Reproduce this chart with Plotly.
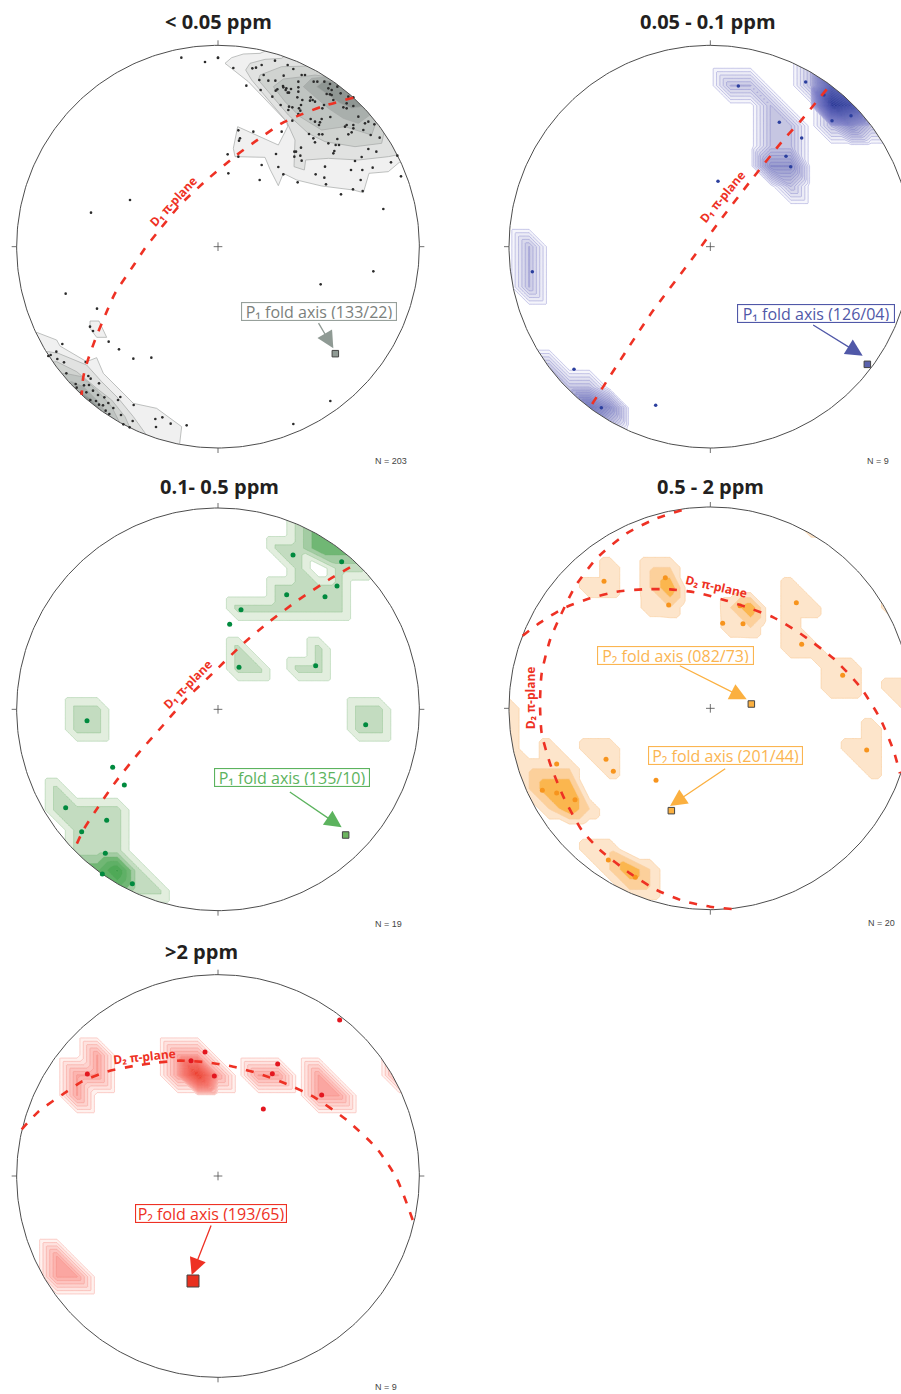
import numpy as np
import plotly.graph_objects as go

# ---------- readings: every coordinate is in "net units" (1/3 px) of that panel ----------
TITLES = ["&lt; 0.05 ppm", "0.05 - 0.1 ppm", "0.1- 0.5 ppm", "0.5 - 2 ppm", "&gt;2 ppm"]
COUNTS = ["N = 203", "N = 9", "N = 19", "N = 20", "N = 9"]

# panel 1: poles (read in two sub-windows of the net)
P1_DOTS_A = [(9,39),(55,69),(123,68),(112,70),(140,60),(180,47),(218,60),(235,72),(146,90),(133,105),(160,107),(181,107),(206,92),(260,90),(270,90),(250,110),(94,122),(137,135),(172,155),(204,123),(214,130),(205,127),(228,132),(212,135),(187,133),(182,137),(222,143),(218,143),(250,127),(250,140),(296,110),(307,110),(328,110),(345,117),(367,125),(340,130),(350,135),(335,147),(345,148),(350,150),(287,157),(293,165),(300,170),(247,157),(258,180),(252,190),(262,165),(197,180),(222,185),(232,187),(220,195),(285,167),(377,145),(400,155),(415,157),(355,165),(395,175),(385,187),(395,190),(415,183),(327,180),(322,190),(346,216),(300,230),(287,222),(256,197),(250,207),(232,227),(320,222),(315,232),(312,240),(390,245),(395,240),(415,240),(415,250),(445,255),(450,235),(460,230),(430,215),(478,238),(467,270),(410,262),(400,268),(367,282),(362,300),(355,325),(358,318),(312,268),(322,268),(282,267),(295,280),(300,292),(340,295),(372,300),(200,260),(115,260),(70,256),(75,280),(72,287),(70,335),(38,328),(183,327),(258,308),(243,320),(238,320),(256,332),(238,335),(260,347),(140,360),(190,366),(40,385),(205,388),(134,405),(302,388),(330,365),(328,398),(333,418),(248,412),(378,448),(414,433),(443,438),(437,405),(408,375),(442,375),(473,368),(420,348),(440,336),(460,312),(484,320),(494,278),(528,352),(558,394),(547,332)]
P1_DOTS_B = [(225,20),(234,33),(281,65),(312,88),(355,116),(409,113),(142,72),(124,95),(107,105),(100,108),(127,117),(147,127),(212,126),(154,160),(220,168),(227,176),(252,190),(182,192),(185,203),(207,196),(222,195),(200,217),(214,217),(234,212),(249,225),(268,232),(280,249),(295,264),(316,231),(309,240),(226,240),(243,243),(252,254),(264,256),(272,272),(283,282),(318,285),(356,255),(353,303),(325,313),(344,322),(421,297),(442,292),(467,311),(423,321),(515,316)]
P1_DOTS_C = [(544,173),(615,186),(654,173),(390,600),(273,638),(197,881),(291,926),(1150,627),(1120,814),(962,853),(991,1203),(880,1272)]

# panel 1: density contours, lightest to darkest
P1_UPPER = [
 [(675,190),(695,173),(730,162),(780,160),(850,130),(1100,250),(1250,480),(1198,487),(1165,515),(1107,520),(1090,578),(1060,570),(965,558),(890,540),(850,520),(835,557),(810,508),(795,472),(705,470),(700,445),(713,380),(835,435),(863,380),(860,365),(745,245)],
 [(737,210),(750,190),(795,178),(845,175),(900,130),(1100,250),(1230,450),(1190,465),(1165,470),(1075,480),(985,475),(917,480),(913,510),(882,500),(885,420),(860,365),(755,240)],
 [(775,240),(780,225),(845,200),(935,198),(960,190),(1150,350),(1155,385),(1145,430),(1065,440),(975,425),(925,400),(865,345)],
 [(820,260),(850,237),(910,230),(945,225),(1050,240),(1130,370),(1125,375),(1115,405),(1035,380),(965,390),(900,350),(855,305)],
 [(910,260),(935,235),(985,230),(1040,240),(1120,340),(1110,345),(1075,370),(1030,355),(985,325)],
 [(950,260),(975,240),(1015,250),(1100,320),(1085,320),(1055,325),(1020,310)],
]
P1_LOWER = [
 [(110,997),(170,1020),(180,1038),(260,1085),(290,1073),(310,1120),(400,1210),(470,1225),(545,1280),(538,1340),(300,1320),(60,1000)],
 [(145,1055),(175,1060),(260,1095),(305,1145),(355,1195),(400,1250),(450,1320),(200,1300),(100,1060)],
 [(170,1085),(230,1115),(290,1165),(335,1200),(375,1250),(395,1295),(200,1300),(120,1090)],
 [(195,1120),(245,1130),(295,1175),(335,1220),(365,1280),(200,1290),(150,1130)],
 [(215,1145),(250,1160),(290,1200),(320,1240),(335,1265),(220,1270),(170,1150)],
 [(240,1175),(270,1195),(295,1220),(315,1250),(240,1260),(200,1180)],
]
P1_ISLAND = [(270,963),(297,963),(320,1012),(290,1012),(270,985)]
P1_SHADES = ["#f0f0f0","#e1e2e1","#d0d3d0","#bfc4c1","#a9afac","#8f9693"]

# panels 2-5: counting-grid values (column, row, count) around the net centre
P2_NODES = [(1,-8,1),(2,-8,1),(3,-7,1),(3,-6,1),(4,-6,1),(3,-5,1),(4,-5,1),(3,-4,2),(4,-4,2),(4,-3,1),
            (5,-9,1),(5,-8,1),(6,-8,4),(6,-7,6),(7,-7,5),(6,-6,1),(7,-6,2),(8,-6,1),(8,-7,1),(7,-8,3),
            (-9,0,1),(-9,1,1),(-9,2,1),
            (-8,6,1),(-7,7,1),(-6,7,1),(-8,7,1),(-7,8,1),(-6,8,3),(-5,8,2),(-6,9,1),(-5,9,1)]
P3_NODES = [(1,-5,1),(2,-5,1),(3,-5,1),(4,-5,1),(5,-5,1),(6,-5,1),(3,-6,1),(4,-6,1),(5,-6,1),(6,-6,1),
            (4,-7,1),(6,-7,1),(7,-7,1),(3,-8,1),(4,-8,1),(5,-8,2),(6,-8,2),(7,-8,2),(4,-9,1),(5,-9,2),(6,-9,2),(4,-10,1),(5,-10,2),
            (1,-3,1),(1,-2,1),(2,-2,1),(5,-3,1),(5,-2,1),(4,-2,1),
            (-7,0,1),(-6,0,1),(-7,1,1),(-6,1,1),(7,0,1),(8,0,1),(7,1,1),(8,1,1),
            (-8,4,1),(-8,5,1),(-7,5,1),(-6,5,1),(-5,5,1),(-7,6,1),(-6,6,1),(-5,6,1),(-7,7,1),(-6,7,1),(-5,7,1),
            (-7,8,2),(-6,8,2),(-5,8,3),(-4,8,1),(-6,9,2),(-5,9,2),(-4,9,1),(-3,9,1)]
P4_NODES = [(-5,-7,1),(-5,-6,1),(-6,-6,1),
            (-3,-7,1),(-2,-7,1),(-3,-6,1),(-2,-6,2),(-3,-5,0.9),(-2,-5,1),
            (1,-5,1),(2,-5,2),(1,-4,0.95),(2,-4,1),
            (4,-6,1),(4,-5,1),(5,-5,1),(4,-4,1),(4,-3,1),(5,-3,1),(6,-2,1),(7,-2,1),(6,-1,1),(7,-1,1),
            (9,-1,1),(10,-1,1),(10,0,1),(8,1,1),(8,2,1),(8,3,1),(7,2,1),
            (-10,0,1),(-10,1,1),(-10,2,1),(-10,3,1),(-10,4,1),(-9,3,1),(-9,4,1),(-8,2,1),(-8,3,1),(-7,3,1),
            (-8,4,2),(-7,4,2),(-7,5,2),(-8,5,1),(-6,5,1),
            (-6,2,1),(-5,2,1),(-5,3,1),
            (-6,7,1),(-5,7,1),(-4,8,2),(-3,8,1),(-3,9,1),(-4,9,1),(-5,8,1),
            (5,-9,1),(9,-5,1)]
P5_NODES = [(-8,4,1),(-8,5,1),(-7,5,1),
            (-6,-6,1),(-6,-5,1),(-7,-5,1),(-7,-4,1),
            (-2,-6,1),(-1,-6,1),(0,-5,1),(-2,-5,1),(-1,-5,4),
            (2,-5,1),(3,-5,1),(5,-5,1),(5,-4,1),(6,-4,1),(9,-5,1),(9,-6,1)]

# measured poles
P2_DOTS = [(865,258),(988,367),(1055,414),(1008,469),(1022,500),(1067,246),(1122,285),(1203,347),(1146,362),(804,544),(247,815),(372,1108),(454,1223),(617,1216)]
P3_DOTS = [(879,255),(1025,275),(1011,348),(860,374),(975,380),(723,419),(689,463),(717,592),(947,587),(261,752),(1097,764),(338,892),(373,945),(197,1013),(320,1051),(245,1085),(316,1150),(307,1212),(397,1241)]
P4_DOTS = [(462,334),(646,323),(656,405),(870,407),(818,460),(879,461),(1039,398),(1055,523),(1178,616),(1250,840),(320,882),(468,868),(490,904),(618,931),(277,961),(320,969),(375,989),(475,1170),(556,1222)]
P5_DOTS = [(262,432),(573,392),(615,366),(643,438),(833,402),(817,431),(965,495),(790,537),(1019,270)]

# pi-planes
P1_ARC = [(1060,293),(965,320),(895,347),(845,370),(765,425),(710,465),(620,540),(540,615),(470,700),(435,745),(405,790),(345,880),(320,935),(285,1020),(262,1085),(250,1130),(245,1185)]
P2_ARC = [(1130,268),(1050,365),(1000,420),(900,545),(800,675),(735,765),(600,945),(420,1222)]
P3_ARC = [(1050,292),(985,330),(895,390),(808,455),(725,525),(640,608),(560,685),(490,765),(415,850),(345,938),(285,1025),(250,1080),(222,1140)]
P4_ARC_A = [(845,1317),(780,1310),(700,1293),(620,1260),(540,1210),(450,1140),(395,1080),(340,980),(300,880),(275,790),(270,700),(275,610),(300,510),(330,440),(375,350),(440,265),(530,190),(620,145),(715,115)]
P4_ARC_B = [(218,497),(270,458),(340,415),(420,385),(500,365),(580,358),(660,358),(740,368),(830,392),(900,415),(970,442),(1050,490),(1150,565),(1230,650),(1290,745),(1330,840),(1350,910)]
P5_ARC = [(65,598),(115,545),(200,485),(245,455),(320,425),(400,408),(470,398),(540,392),(620,397),(700,410),(780,432),(860,462),(940,500),(1040,570),(1130,655),(1190,745),(1240,875)]

# ---------- layout of the five nets ----------
CROPS = [(0,0,450,470),(450,0,451,470),(0,470,450,460),(450,470,451,460),(0,930,450,464)]
CENTRES = [(654,740),(781,740),(654,718),(781,715),(654,738)]
RADIUS = 604.0
STEP = 60.4
W, H = 901, 1394
RED = "#ee3124"

fig = go.Figure()
layout_axes = {}
annotations = []


def ax(i):
    return ("x" if i == 0 else f"x{i+1}"), ("y" if i == 0 else f"y{i+1}")


def poly(i, pts, fill, edge="#a5a8a6", width=0.7):
    xa, ya = ax(i)
    xs, ys = zip(*pts)
    fig.add_trace(go.Scatter(x=list(xs)+[xs[0]], y=list(ys)+[ys[0]], mode="lines", fill="toself",
                             fillcolor=fill, line=dict(color=edge, width=width), xaxis=xa, yaxis=ya,
                             hoverinfo="skip", showlegend=False))


def contour(i, nodes, start, size, end, scale, line, lw=0.6, k=6):
    """Counting grid drawn as a Plotly contour; each grid cell is split along its NW-SE diagonal."""
    xa, ya = ax(i)
    cx, cy = CENTRES[i]
    n = 13
    z = np.zeros((2*n+1, 2*n+1))
    for c, r, v in nodes:
        z[r+n, c+n] = v
    m = 2*n*k+1
    f = np.zeros((m, m))
    for a in range(m):
        r0 = min(a//k, 2*n-1); v = a/k-r0
        for b in range(m):
            c0 = min(b//k, 2*n-1); u = b/k-c0
            nw, ne, sw, se = z[r0, c0], z[r0, c0+1], z[r0+1, c0], z[r0+1, c0+1]
            if u >= v:
                f[a, b] = nw+u*(ne-nw)+v*(se-ne)
            else:
                f[a, b] = nw+v*(sw-nw)+u*(se-sw)
    xs = cx+STEP*(np.arange(m)/k-n)
    ys = cy+STEP*(np.arange(m)/k-n)
    fig.add_trace(go.Contour(x=xs.tolist(), y=ys.tolist(), z=np.round(f, 4).tolist(), autocontour=False,
                             contours=dict(start=start, end=end, size=size, coloring="fill", showlines=True),
                             colorscale=scale, line=dict(color=line, width=lw, smoothing=0), showscale=False,
                             hoverinfo="skip", xaxis=xa, yaxis=ya))


def frame(i):
    xa, ya = ax(i)
    cx, cy = CENTRES[i]
    t = np.linspace(0, 2*np.pi, 361)
    ox, oy = cx+RADIUS*np.cos(t), cy+RADIUS*np.sin(t)
    big = 1000
    mx = list(ox)+[cx+big, cx+big, cx-big, cx-big, cx+big, cx+big, ox[0]]
    my = list(oy)+[cy, cy-big, cy-big, cy+big, cy+big, cy, oy[0]]
    fig.add_trace(go.Scatter(x=mx, y=my, mode="lines", fill="toself", fillcolor="white", line=dict(width=0),
                             xaxis=xa, yaxis=ya, hoverinfo="skip", showlegend=False))
    fig.add_trace(go.Scatter(x=ox.tolist(), y=oy.tolist(), mode="lines", line=dict(color="#4d4d4d", width=1),
                             xaxis=xa, yaxis=ya, hoverinfo="skip", showlegend=False))
    T = 15; C = 13
    tx = [cx-C, cx+C, None, cx, cx, None, cx-RADIUS-T, cx-RADIUS, None, cx+RADIUS, cx+RADIUS+T, None, cx, cx, None, cx, cx]
    ty = [cy, cy, None, cy-C, cy+C, None, cy, cy, None, cy, cy, None, cy-RADIUS-T, cy-RADIUS, None, cy+RADIUS, cy+RADIUS+T]
    fig.add_trace(go.Scatter(x=tx, y=ty, mode="lines", line=dict(color="#4d4d4d", width=0.8), xaxis=xa, yaxis=ya,
                             hoverinfo="skip", showlegend=False))


def dots(i, pts, color, size):
    xa, ya = ax(i)
    xs, ys = zip(*pts)
    fig.add_trace(go.Scatter(x=list(xs), y=list(ys), mode="markers", marker=dict(color=color, size=size),
                             xaxis=xa, yaxis=ya, hoverinfo="skip", showlegend=False))


def arc(i, pts):
    xa, ya = ax(i)
    xs, ys = zip(*pts)
    fig.add_trace(go.Scatter(x=list(xs), y=list(ys), mode="lines", line=dict(color=RED, width=2.6, dash="8px,9.5px", shape="spline", smoothing=0.6),
                             xaxis=xa, yaxis=ya, hoverinfo="skip", showlegend=False))


def axis_square(i, x, y, fill, size=6.5):
    xa, ya = ax(i)
    fig.add_trace(go.Scatter(x=[x], y=[y], mode="markers", marker=dict(symbol="square", color=fill, size=size, line=dict(color="#444444", width=1)),
                             xaxis=xa, yaxis=ya, hoverinfo="skip", showlegend=False))


def label(i, text, x, y, color, border=None, width=151):
    xa, ya = ax(i)
    annotations.append(dict(x=x, y=y, xref=xa, yref=ya, text=text, showarrow=False, bgcolor="white",
                            bordercolor=border or color, borderwidth=1.1, borderpad=1, width=width, height=15,
                            font=dict(family="Open Sans", size=16, color=color)))


def arrow(i, x0, y0, x1, y1, color):
    xa, ya = ax(i)
    annotations.append(dict(x=x1, y=y1, ax=x0, ay=y0, xref=xa, yref=ya, axref=xa, ayref=ya, text="", showarrow=True,
                            arrowhead=2, arrowsize=2.6, arrowwidth=1.3, arrowcolor=color, standoff=0))


def plane_text(i, text, x, y, angle, size=12):
    xa, ya = ax(i)
    annotations.append(dict(x=x, y=y, xref=xa, yref=ya, text=f"<b>{text}</b>", textangle=angle, showarrow=False,
                            font=dict(family="Open Sans", size=size, color=RED)))


# ---------- panel 1 ----------
for lvl, shade in zip(P1_UPPER, P1_SHADES):
    poly(0, lvl, shade)
for lvl, shade in zip(P1_LOWER, P1_SHADES):
    poly(0, lvl, shade)
poly(0, P1_ISLAND, P1_SHADES[0])
# ---------- panels 2-5 contours ----------
contour(1, P2_NODES, 0.14, 1/6, 6.0,
        [[0, "rgba(255,255,255,0)"], [1/36, "#f5f5fb"], [6/36, "#c6c6e2"], [12/36, "#9497cb"], [24/36, "#5560ae"], [1, "#22338f"]],
        "rgba(110,110,195,0.6)")
contour(2, P3_NODES, 0.415, 0.415, 2.95,
        [[0, "rgba(255,255,255,0)"], [1/7, "#e2eede"], [2/7, "#c3dcc0"], [3/7, "#a3cca3"], [4/7, "#70b774"], [5/7, "#5fb066"], [6/7, "#4fa957"], [1, "#3d9f49"]],
        "rgba(110,180,110,0.45)", 0.7)
contour(3, P4_NODES, 0.5, 0.5, 1.5,
        [[0, "rgba(255,255,255,0)"], [1/3, "#fde5cb"], [2/3, "#fcd09b"], [1, "#fbb64e"]],
        "#f9cf9f", 0.7)
contour(4, P5_NODES, 0.14, 1/6, 4.0,
        [[0, "rgba(255,255,255,0)"], [1/24, "#fff1ee"], [6/24, "#fba6a1"], [12/24, "#f6736b"], [1, "#e8301f"]],
        "rgba(245,130,118,0.6)")

for i in range(5):
    frame(i)

dots(0, [(x+645, y+135) for x, y in P1_DOTS_A]+[(x+45, y+960) for x, y in P1_DOTS_B]+P1_DOTS_C, "#2b2b2b", 2.6)
dots(1, P2_DOTS, "#2b3f9e", 3.5)
dots(2, P3_DOTS, "#008a3e", 5)
dots(3, P4_DOTS, "#f7941d", 5)
dots(4, P5_DOTS, "#e3161f", 5)

arc(0, P1_ARC); arc(1, P2_ARC); arc(2, P3_ARC); arc(3, P4_ARC_A); arc(3, P4_ARC_B); arc(4, P5_ARC)

axis_square(0, 1006, 1061, "#8f9a94")
axis_square(1, 1252, 1093, "#5a62ad")
axis_square(2, 1037, 1095, "#6cb55f")
axis_square(3, 904, 702, "#fbb040")
axis_square(3, 664, 1022, "#fbb040")
axis_square(4, 579, 1053, "#e8301f", 12)

label(0, "P₁ fold axis (133/22)", 958, 935, "#7b7f7c", "#97a09b", 152)
label(1, "P₁ fold axis (126/04)", 1097, 939, "#5058a8", None, 154)
label(2, "P₁ fold axis (135/10)", 875, 923, "#5cb35e", None, 152)
label(3, "P₂ fold axis (082/73)", 676, 555, "#fbb551", None, 153)
label(3, "P₂ fold axis (201/44)", 826, 855, "#fbb551", None, 151)
label(4, "P₂ fold axis (193/65)", 632, 851, RED, None, 148)

arrow(0, 953, 965, 1000, 1045, "#8f9a94")
arrow(1, 1085, 972, 1238, 1067, "#5058a8")
arrow(2, 865, 963, 1025, 1072, "#5cb35e")
arrow(3, 685, 585, 890, 688, "#fbb040")
arrow(3, 830, 893, 660, 1008, "#fbb040")
arrow(4, 635, 882, 575, 1035, RED)

plane_text(0, "D₁ π-plane", 520, 605, -47)
plane_text(1, "D₁ π-plane", 818, 590, -50)
plane_text(2, "D₁ π-plane", 562, 642, -45)
plane_text(3, "D₂ π-plane", 800, 348, 13)
plane_text(3, "D₂ π-plane", 240, 685, -90)
plane_text(4, "D₂ π-plane", 433, 378, -6)

TITLE_POS = [(656, 65), (775, 63), (657, 48), (780, 50), (605, 64)]
COUNT_POS = [(1173, 1384), (1283, 1383), (1165, 1362), (1293, 1360), (1158, 1370)]
for i, (x0, y0, w, h) in enumerate(CROPS):
    xa, ya = ax(i)
    layout_axes["xaxis" if i == 0 else f"xaxis{i+1}"] = dict(domain=[x0/W, (x0+w)/W], range=[0, 3*w], visible=False, anchor=ya, fixedrange=True)
    layout_axes["yaxis" if i == 0 else f"yaxis{i+1}"] = dict(domain=[1-(y0+h)/H, 1-y0/H], range=[3*h, 0], visible=False, anchor=xa, fixedrange=True)
    annotations.append(dict(x=TITLE_POS[i][0], y=TITLE_POS[i][1], xref=xa, yref=ya, text=f"<b>{TITLES[i]}</b>", showarrow=False,
                            font=dict(family="Open Sans", size=20, color="#231f20")))
    annotations.append(dict(x=COUNT_POS[i][0], y=COUNT_POS[i][1], xref=xa, yref=ya, text=COUNTS[i], showarrow=False,
                            font=dict(family="Liberation Sans", size=9, color="#444444")))

fig.update_layout(width=W, height=H, margin=dict(l=0, r=0, t=0, b=0), paper_bgcolor="white", plot_bgcolor="white",
                  showlegend=False, annotations=annotations, **layout_axes)
fig.write_html("out.html", config=dict(displayModeBar=False),
               post_script="document.body.style.margin='0';document.documentElement.style.overflow='hidden';")
